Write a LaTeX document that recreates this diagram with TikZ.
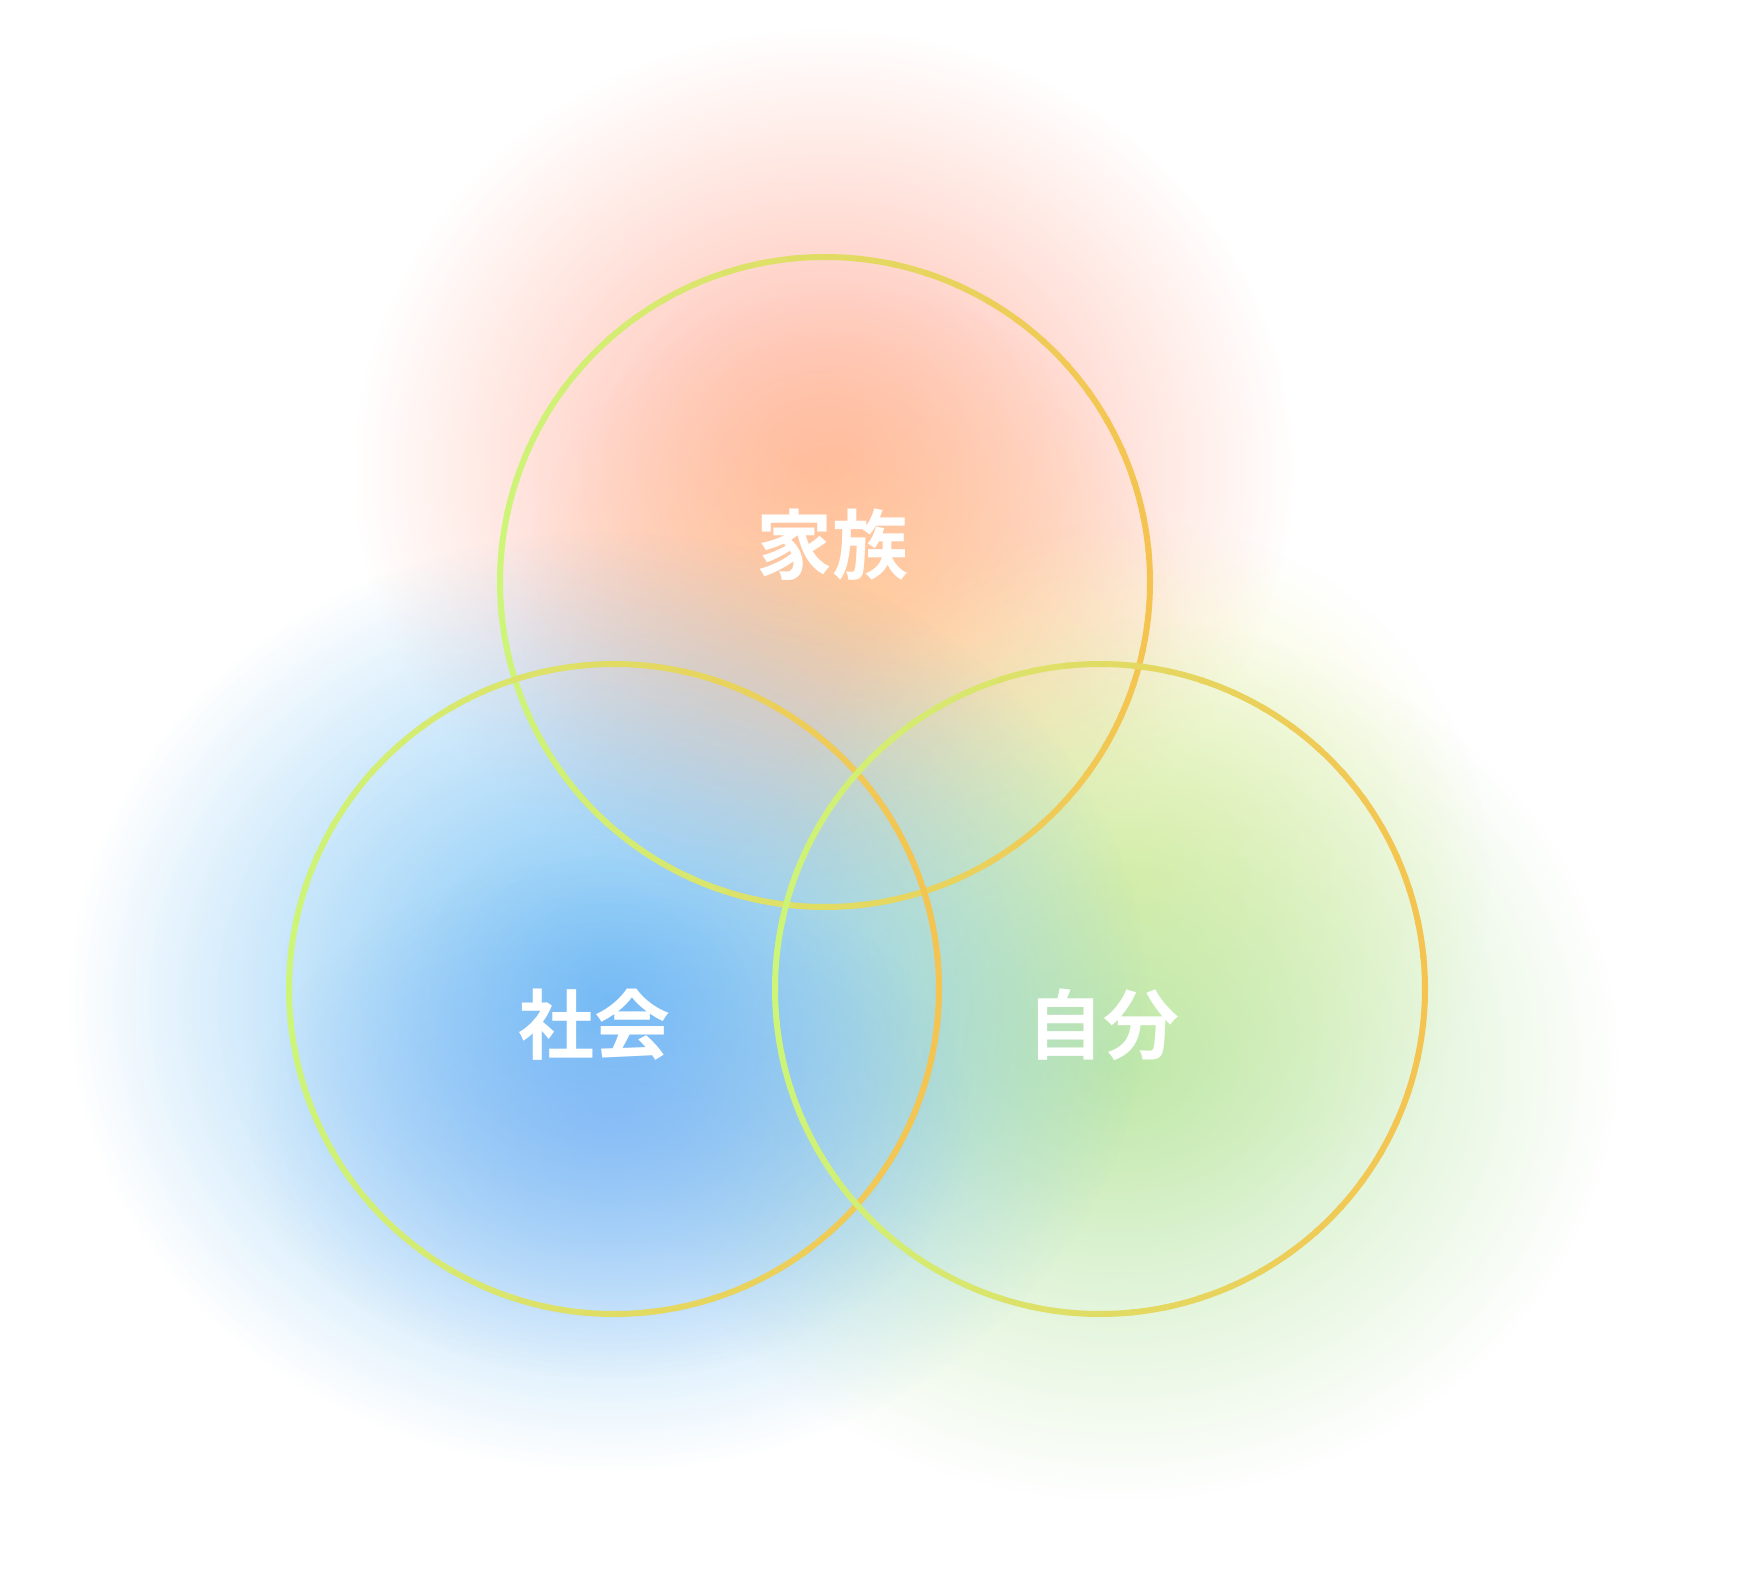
\documentclass[tikz,border=0pt]{standalone}
\usepackage{fontspec}
\newfontfamily\cjkb{Noto Sans CJK JP Bold}
\usetikzlibrary{fadings,calc}
\tikzfading[name=softglow,inner color=transparent!0,outer color=transparent!100]
\definecolor{gsalmon}{RGB}{255,170,150}
\definecolor{gpeach}{RGB}{255,205,150}
\definecolor{gblue}{RGB}{110,190,245}
\definecolor{gblue2}{RGB}{120,170,245}
\definecolor{ggreen}{RGB}{185,230,165}
\definecolor{gyellow}{RGB}{240,245,170}
\definecolor{rorange}{RGB}{245,195,80}
\definecolor{rgreen}{RGB}{205,245,120}
\tikzset{glow/.style={fill=#1,path fading=softglow},
 lab/.style={text=white,font=\cjkb\fontsize{76}{86}\selectfont}}
\begin{document}
\begin{tikzpicture}[x=1pt,y=-1pt]
\useasboundingbox[fill=white] (0,0) rectangle (1748,1570);
\fill[glow=gsalmon,opacity=0.9] (825,470) ellipse (470 and 440);
\fill[glow=gpeach,opacity=0.8] (850,620) circle (330);
\fill[glow=gyellow,opacity=0.9] (1130,880) circle (360);
\fill[glow=ggreen,opacity=0.9] (1120,1060) ellipse (500 and 440);
\fill[glow=gblue,opacity=0.95] (610,1000) ellipse (540 and 470);
\fill[glow=gblue2,opacity=0.5] (610,1120) ellipse (360 and 260);
\coordinate (ct) at (825,582);
\coordinate (cl) at (614,989);
\coordinate (cr) at (1100,989);
\foreach \c in {ct,cl,cr}{
 \foreach \a in {0,6,...,354}{
  \pgfmathsetmacro\m{50+50*cos(\a+3)}
  \draw[line width=6pt,color=rorange!\m!rgreen,line cap=round]
   ($(\c)+(\a:325)$) arc[start angle=\a,end angle=\a+6.5,radius=325];
 }
}
\node[lab] (fam) at (832,545) {家族};
\node[lab] (soc) at (594,1025) {社会};
\node[lab] (self) at (1103,1025) {自分};
\end{tikzpicture}
\end{document}
